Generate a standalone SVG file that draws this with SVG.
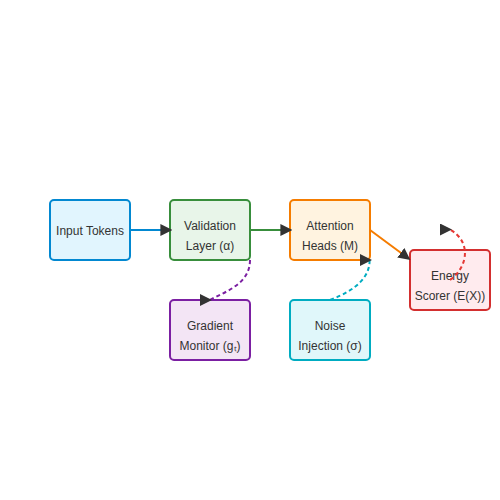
<svg xmlns="http://www.w3.org/2000/svg" width="500" height="500" viewBox="0 0 500 500">
<defs>
<style>
.node rect{stroke-width:2}
.node text{font-family:"Liberation Sans",Arial,sans-serif;font-size:12px;fill:#333;text-anchor:middle}
.edge{fill:none;stroke-width:2}
.dash{stroke-dasharray:4,3}
</style>
<marker id="arr" viewBox="0 0 10 10" refX="8" refY="5" markerWidth="6" markerHeight="6" orient="auto" markerUnits="strokeWidth"><path d="M0,0L10,5L0,10z" fill="#333"/></marker>
<marker id="arrf" viewBox="0 0 10 10" refX="8" refY="5" markerWidth="6" markerHeight="6" orient="0" markerUnits="strokeWidth"><path d="M0,0L10,5L0,10z" fill="#333"/></marker>
</defs>
<rect width="500" height="500" fill="#fff"/>
<g id="input" class="node"><rect x="50" y="200" width="80" height="60" rx="4" fill="#e1f5fe" stroke="#0288d1"/><text x="90" y="234.5">Input Tokens</text></g>
<g id="validation" class="node"><rect x="170" y="200" width="80" height="60" rx="4" fill="#e8f5e9" stroke="#388e3c"/><text x="210" y="230">Validation</text><text x="210" y="250">Layer (α)</text></g>
<g id="attention" class="node"><rect x="290" y="200" width="80" height="60" rx="4" fill="#fff3e0" stroke="#f57c00"/><text x="330" y="230">Attention</text><text x="330" y="250">Heads (M)</text></g>
<g id="energy" class="node"><rect x="410" y="250" width="80" height="60" rx="4" fill="#ffebee" stroke="#d32f2f"/><text x="450" y="280">Energy</text><text x="450" y="300">Scorer (E(X))</text></g>
<g id="gradient" class="node"><rect x="170" y="300" width="80" height="60" rx="4" fill="#f3e5f5" stroke="#7b1fa2"/><text x="210" y="330">Gradient</text><text x="210" y="350">Monitor (gₜ)</text></g>
<g id="noise" class="node"><rect x="290" y="300" width="80" height="60" rx="4" fill="#e0f7fa" stroke="#00acc1"/><text x="330" y="330">Noise</text><text x="330" y="350">Injection (σ)</text></g>
<g id="connectors">
<path class="edge" stroke="#0288d1" d="M130,230L170,230" marker-end="url(#arr)"/>
<path class="edge" stroke="#388e3c" d="M250,230L290,230" marker-end="url(#arr)"/>
<path class="edge" stroke="#f57c00" d="M370,230L408.5,258.5" marker-end="url(#arr)"/>
<path class="edge dash" stroke="#7b1fa2" d="M250,260C250,282 230,290 209.6,300" marker-end="url(#arrf)"/>
<path class="edge dash" stroke="#00acc1" d="M330,300Q370,285 369.6,260" marker-end="url(#arrf)"/>
<path class="edge dash" stroke="#e53935" d="M450,280C470,265 470,240 449.6,229.5" marker-end="url(#arrf)"/>
</g>
</svg>
